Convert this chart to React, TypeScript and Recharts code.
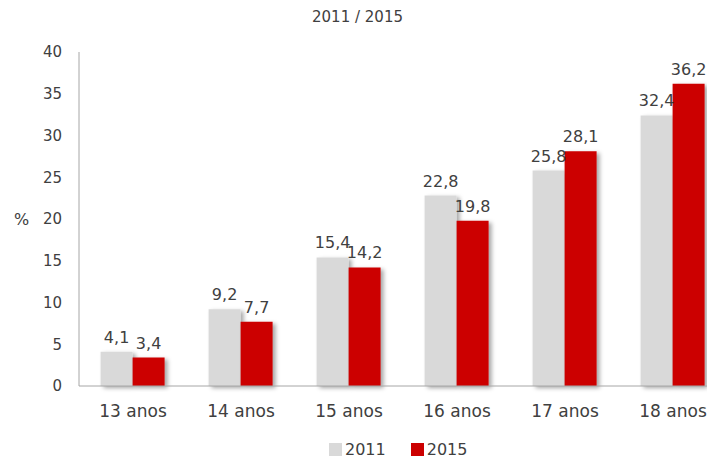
import { BarChart, Bar, XAxis, YAxis, Legend, LabelList } from 'recharts'

const categories = ['13 anos', '14 anos', '15 anos', '16 anos', '17 anos', '18 anos']
const values2011 = [4.1, 9.2, 15.4, 22.8, 25.8, 32.4]
const values2015 = [3.4, 7.7, 14.2, 19.8, 28.1, 36.2]
const yTicks = [0, 5, 10, 15, 20, 25, 30, 35, 40]

const FONT = '"DejaVu Sans", sans-serif'
const TEXT = '#404040'
const GRAY = '#D9D9D9'
const RED = '#CC0000'

const fmt = (v: any) => String(v).replace('.', ',')

function LegendContent() {
  const item = (color: string, label: string) => (
    <span style={{ display: 'inline-flex', alignItems: 'center', marginRight: 25 }}>
      <span style={{ width: 13, height: 13, background: color, display: 'inline-block', marginRight: 3 }} />
      <span>{label}</span>
    </span>
  )
  return (
    <div style={{ height: 18, marginLeft: 321, display: 'flex', alignItems: 'center', fontFamily: FONT, fontSize: 16, color: TEXT }}>
      {item(GRAY, '2011')}
      {item(RED, '2015')}
    </div>
  )
}

export default function App() {
  const data = categories.map((c, i) => ({ name: c, y2011: values2011[i], y2015: values2015[i] }))

  return (
    <div style={{ position: 'relative', width: 707, height: 450, overflow: 'hidden' }}>
      <div
        style={{
          position: 'absolute', top: 0, left: 0, width: 699, textAlign: 'center',
          fontFamily: FONT, fontSize: 15, color: TEXT, lineHeight: '18px',
        }}
      >
        2011 / 2015
      </div>
      <BarChart
        width={730}
        height={450}
        data={data}
        margin={{ top: 44, right: 11, left: 0, bottom: 0 }}
        barCategoryGap="20%"
        barGap={0}
      >
        <defs>
          <filter id="shadow" x="-20%" y="-20%" width="160%" height="140%">
            <feDropShadow dx="3" dy="2" stdDeviation="2" floodColor="#000" floodOpacity="0.35" />
          </filter>
        </defs>
        <XAxis
          dataKey="name"
          height={54}
          axisLine={{ stroke: '#A6A6A6' }}
          tickLine={false}
          tickSize={0}
          tickMargin={19}
          tick={{ fill: TEXT, fontSize: 17, fontFamily: FONT }}
        />
        <YAxis
          width={71}
          domain={[0, 40]}
          ticks={yTicks}
          axisLine={{ stroke: '#A6A6A6' }}
          tickLine={false}
          tickSize={0}
          tickMargin={17}
          tick={{ fill: TEXT, fontSize: 15, fontFamily: FONT }}
          label={{ value: '%', position: 'insideLeft', offset: 6, fill: TEXT, fontSize: 16, fontFamily: FONT }}
        />
        <Legend verticalAlign="bottom" content={<LegendContent />} wrapperStyle={{ left: 0, width: 730 }} />
        <Bar dataKey="y2011" name="2011" fill={GRAY} filter="url(#shadow)" isAnimationActive={false}>
          <LabelList dataKey="y2011" position="top" offset={9} formatter={fmt} fill={TEXT} fontSize={16} fontFamily={FONT} />
        </Bar>
        <Bar dataKey="y2015" name="2015" fill={RED} filter="url(#shadow)" isAnimationActive={false}>
          <LabelList dataKey="y2015" position="top" offset={9} formatter={fmt} fill={TEXT} fontSize={16} fontFamily={FONT} />
        </Bar>
      </BarChart>
    </div>
  )
}
